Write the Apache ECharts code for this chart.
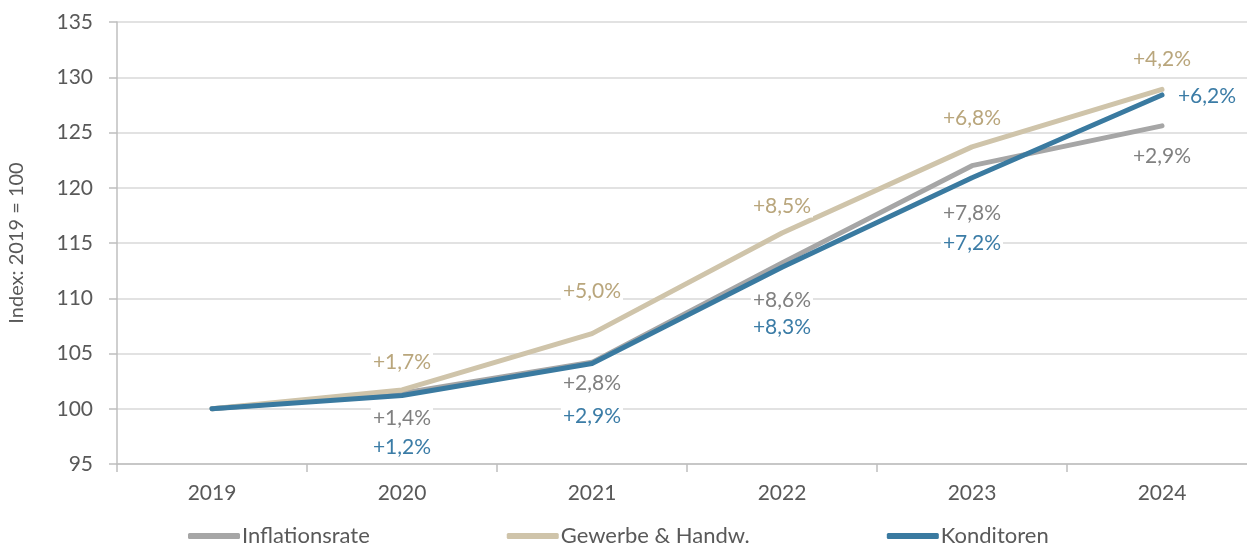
<!DOCTYPE html>
<html>
<head>
<meta charset="utf-8">
<script src="https://cdn.jsdelivr.net/npm/echarts@6/dist/echarts.min.js"></script>
<style>
  html, body { margin: 0; padding: 0; background: #fff; }
  #chart { width: 1247px; height: 545px; }
</style>
</head>
<body>
<div id="chart"></div>
<script>
const years = ["2019", "2020", "2021", "2022", "2023", "2024"];

const inflation = [100, 101.4, 104.2, 113.2, 122.0, 125.6];
const gewerbe = [100, 101.7, 106.8, 115.9, 123.7, 128.9];
const konditoren = [100, 101.2, 104.1, 112.8, 120.9, 128.4];

const inflationLabels = ["", "+1,4%", "+2,8%", "+8,6%", "+7,8%", "+2,9%"];
const gewerbeLabels = ["", "+1,7%", "+5,0%", "+8,5%", "+6,8%", "+4,2%"];
const konditorenLabels = ["", "+1,2%", "+2,9%", "+8,3%", "+7,2%", "+6,2%"];

// label offsets [dx, dy] from each point
const inflationOffsets = [[0, 0], [0, 25], [0, 21], [0, 37], [0, 48], [0, 30]];
const gewerbeOffsets = [[0, 0], [0, -28], [0, -42], [0, -27], [0, -29], [0, -30]];
const konditorenOffsets = [[0, 0], [0, 52], [0, 53], [0, 60], [0, 65], [45, 1]];

const FONT = "Lato";
const FS = 21;

function buildData(values, labels, offsets, color) {
  return values.map((v, i) => ({
    value: v,
    label: {
      show: labels[i] !== "",
      formatter: labels[i],
      position: offsets[i],
      align: "center",
      verticalAlign: "middle",
      color: color,
      fontFamily: FONT,
      fontSize: FS,
      backgroundColor: "#fff",
      padding: [1, 2],
    },
  }));
}

function lineSeries(name, values, labels, offsets, lineColor, labelColor, z) {
  return {
    name: name,
    type: "line",
    data: buildData(values, labels, offsets, labelColor),
    symbol: "circle",
    symbolSize: 0.1,
    showSymbol: true,
    z: z,
    lineStyle: { color: lineColor, width: 5, cap: "round", join: "round" },
    itemStyle: { color: lineColor },
  };
}

const chart = echarts.init(document.getElementById("chart"));

chart.setOption({
  animation: false,
  textStyle: { fontFamily: FONT },
  grid: {
    left: 117,
    right: -10,
    top: 22,
    bottom: 81,
    outerBoundsMode: "none",
  },
  legend: {
    left: 183,
    top: 520,
    itemWidth: 52,
    itemHeight: 6,
    itemGap: 137,
    icon: "roundRect",
    textStyle: { color: "#595959", fontSize: 22, fontFamily: FONT, padding: [0, 0, 0, -3] },
    data: ["Inflationsrate", "Gewerbe & Handw.", "Konditoren"],
  },
  xAxis: {
    type: "category",
    data: years,
    boundaryGap: true,
    axisLine: { lineStyle: { color: "#bfbfbf", width: 1.5 } },
    axisTick: { show: true, length: 8, lineStyle: { color: "#bfbfbf", width: 1.5 } },
    axisLabel: { color: "#595959", fontSize: FS, margin: 19, fontFamily: FONT },
    splitLine: { show: false },
  },
  yAxis: {
    type: "value",
    min: 95,
    max: 135,
    interval: 5,
    name: "Index: 2019 = 100",
    nameLocation: "middle",
    nameGap: 90,
    nameTextStyle: { color: "#595959", fontSize: 20, fontFamily: FONT },
    axisLine: { show: true, lineStyle: { color: "#bfbfbf", width: 1.5 } },
    axisTick: { show: true, length: 8, lineStyle: { color: "#bfbfbf", width: 1.5 } },
    axisLabel: { color: "#595959", fontSize: FS, margin: 24, fontFamily: FONT },
    splitLine: { show: true, lineStyle: { color: "#d9d9d9", width: 1.5 } },
  },
  series: [
    lineSeries("Inflationsrate", inflation, inflationLabels, inflationOffsets, "#a6a6a6", "#808080", 2),
    lineSeries("Gewerbe & Handw.", gewerbe, gewerbeLabels, gewerbeOffsets, "#cfc4aa", "#b9a67c", 3),
    lineSeries("Konditoren", konditoren, konditorenLabels, konditorenOffsets, "#3a7aa0", "#3b7ca6", 4),
  ],
});
</script>
</body>
</html>
